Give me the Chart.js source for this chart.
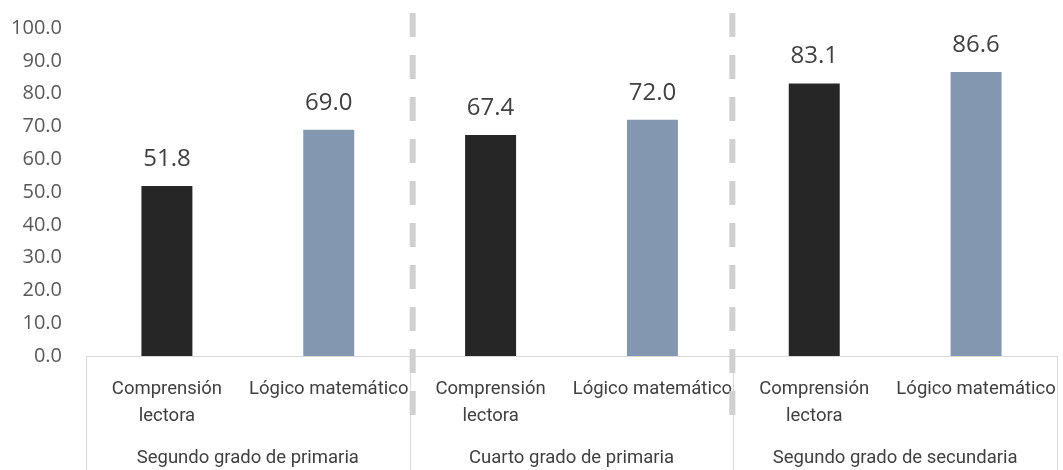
<!DOCTYPE html>
<html>
<head>
<meta charset="utf-8">
<script src="https://cdn.jsdelivr.net/npm/chart.js@4.4.1/dist/chart.umd.min.js"></script>
<style>
  html, body { margin: 0; padding: 0; background: #fff; }
  #wrap { width: 1063px; height: 470px; position: relative; }
</style>
</head>
<body>
<div id="wrap"><canvas id="chart"></canvas></div>
<script>
// chart data
const subjects = [
    ['Comprensión', 'lectora'], 'Lógico matemático',
    ['Comprensión', 'lectora'], 'Lógico matemático',
    ['Comprensión', 'lectora'], 'Lógico matemático'
];
const grades = ['Segundo grado de primaria', 'Cuarto grado de primaria', 'Segundo grado de secundaria'];
const scores = [51.8, 69.0, 67.4, 72.0, 83.1, 86.6];
const barColors = ['#262626', '#8497B0', '#262626', '#8497B0', '#262626', '#8497B0'];
const yTicks = [0, 10, 20, 30, 40, 50, 60, 70, 80, 90, 100];

const narrow = '"Liberation Sans Narrow", "Roboto", sans-serif';
const plain = '"Open Sans", "Noto Sans", sans-serif';

// value labels above each bar
const valueLabels = {
    id: 'valueLabels',
    afterDatasetsDraw(chart) {
        const ctx = chart.ctx;
        const meta = chart.getDatasetMeta(0);
        ctx.save();
        ctx.font = '24px ' + plain;
        ctx.fillStyle = '#404040';
        ctx.textAlign = 'center';
        ctx.textBaseline = 'alphabetic';
        meta.data.forEach((bar, i) => {
            ctx.fillText(scores[i].toFixed(1), bar.x, bar.y - 20);
        });
        ctx.restore();
    }
};

// group boxes under the axis + dashed separators
const groupLines = {
    id: 'groupLines',
    afterDraw(chart) {
        const ctx = chart.ctx;
        const x = chart.scales.x;
        const area = chart.chartArea;
        const step = (x.right - x.left) / subjects.length;
        ctx.save();
        ctx.strokeStyle = '#d9d9d9';
        ctx.lineWidth = 1;
        for (let g = 0; g <= grades.length; g++) {
            const px = Math.round(x.left + g * 2 * step) + 0.5;
            ctx.beginPath();
            ctx.moveTo(px, area.bottom);
            ctx.lineTo(px, chart.height);
            ctx.stroke();
        }
        ctx.strokeStyle = '#d0d0d0';
        ctx.lineWidth = 6;
        ctx.setLineDash([24, 18]);
        [1, 2].forEach((g, k) => {
            const px = x.left + g * 2 * step + (k === 0 ? 3 : -1);
            ctx.beginPath();
            ctx.moveTo(px, 13);
            ctx.lineTo(px, 415);
            ctx.stroke();
        });
        ctx.restore();
    }
};

function fixBottomAxis(h) {
    return function(axis) {
        axis.height = h;
        axis.paddingLeft = 0;
        axis.paddingRight = 0;
    };
}

new Chart(document.getElementById('chart'), {
    type: 'bar',
    data: {
        labels: subjects,
        datasets: [{
            data: scores,
            backgroundColor: barColors,
            barPercentage: 0.63,
            categoryPercentage: 0.5
        }]
    },
    options: {
        responsive: true,
        maintainAspectRatio: false,
        animation: false,
        layout: { padding: { top: 12, right: 6, left: 0, bottom: 0 } },
        plugins: {
            legend: { display: false },
            tooltip: { enabled: false }
        },
        scales: {
            y: {
                min: 0,
                max: 100,
                afterBuildTicks(axis) {
                    axis.ticks = yTicks.map(v => ({ value: v }));
                },
                afterFit(axis) { axis.width = 86; },
                grid: { display: false },
                border: { display: false },
                ticks: {
                    padding: 16,
                    color: '#595959',
                    font: { family: plain, size: 20 },
                    callback: v => v.toFixed(1)
                }
            },
            x: {
                afterFit: fixBottomAxis(72),
                grid: { display: false, drawTicks: false },
                border: { display: true, color: '#d9d9d9' },
                ticks: {
                    padding: 20,
                    maxRotation: 0,
                    autoSkip: false,
                    color: '#404040',
                    font: { family: narrow, size: 18.5, lineHeight: 1.45 }
                }
            },
            x2: {
                type: 'category',
                position: 'bottom',
                labels: grades,
                offset: true,
                afterFit: fixBottomAxis(42),
                grid: { display: false, drawTicks: false },
                border: { display: false },
                ticks: {
                    padding: 19,
                    color: '#404040',
                    font: { family: narrow, size: 18.5 }
                }
            }
        }
    },
    plugins: [valueLabels, groupLines]
});
</script>
</body>
</html>
